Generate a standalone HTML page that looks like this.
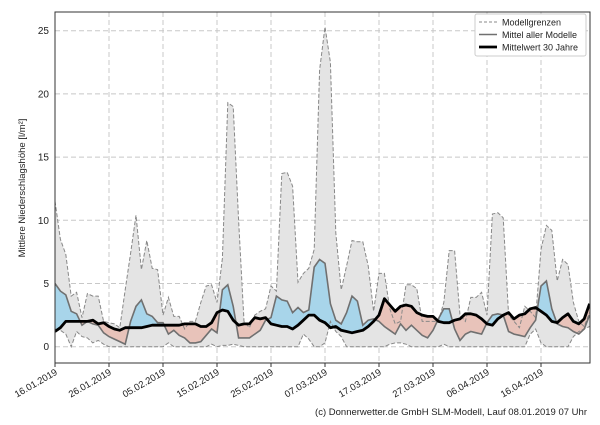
<!DOCTYPE html>
<html><head><meta charset="utf-8"><style>
body{margin:0;background:#fff;width:600px;height:420px;overflow:hidden}
svg{font-family:"Liberation Sans","DejaVu Sans",sans-serif}
</style></head><body>
<svg id="s" width="600" height="420" xmlns="http://www.w3.org/2000/svg"></svg>
<script>
const up=[11.5,8.5,7.3,4,4.3,2.3,4.2,4,4,2,1.9,1.8,1.5,4.5,7.4,10.4,6.1,8.4,6.2,6.1,2.5,3.9,2.4,2.4,1.4,2,2,3.5,4.8,4.9,3.5,7,19.3,19,10,2,1.5,2.5,2.8,3,4.8,4.4,13.7,13.8,12.7,5.1,5.8,6.2,7.7,21.9,25.3,22.5,9,4.5,6.4,8.4,8.3,8.3,6.4,2.8,5.8,5.8,3,1.8,2,4.9,4.9,4.6,2,2,2,2,3.5,7.6,7.6,2.5,2,3.9,3.9,4.3,2.5,10.5,10.6,10.2,2.5,2,1.5,3.2,2.8,2.3,7.7,9.6,9.2,5.2,6.9,6.5,3.5,2,1.6,2.7];
const lo=[1.4,1.3,1,0,1.2,0.8,0.7,0.3,0.5,0.2,0,0,0,0,0,0,0,0,0,0,0,0.3,0,0,0,0,0,0,0,0.2,0,0.1,0.1,0.2,0.1,0,0,0,0,0,0,0,0,0,0,0,1,0.6,0,0,0.3,2,1.2,0.8,0,0,0,0,0,0,0,0,0.2,0.3,0.3,0.2,0,0,0,0,0,0,0.2,0,0,0,0,0,0,0,0,0,0,0,0,0,0,0,1,1.4,0.3,0,0,0,0,0,0.8,1.2,1.4,1.6];
const mn=[5,4.4,4.1,2.8,2.6,1.7,2,1.8,1.7,1.1,0.8,0.6,0.4,0.2,2,3.2,3.7,2.6,2.4,1.9,1.9,1,1.3,0.9,0.7,0.3,0.3,0.4,0.9,1.4,1.1,4.5,4.9,3.2,0.7,0.7,0.7,1,1.3,2.1,2.3,4,3.7,3.6,2.7,3.1,2.7,2.9,6.3,6.9,6.6,3.4,2.1,1.8,2.7,4,3.6,1.7,2.1,2.2,2,1.6,1.3,1,1.8,1.3,1.7,1.3,0.9,0.7,1.3,2.2,3,3,1.4,0.5,1,1.2,1.1,1,1.9,2.5,2.6,2.5,1.2,1,0.9,0.8,1.5,2.1,4.8,5.2,3,1.8,1.6,1.5,1.2,1,1.4,2.5];
const cl=[1.2,1.5,2,2,2,2,2,2.1,1.8,1.9,1.6,1.4,1.3,1.5,1.5,1.5,1.5,1.6,1.7,1.7,1.7,1.7,1.7,1.7,1.8,1.8,1.8,1.6,1.6,1.9,2.7,2.9,2.8,2.1,1.7,1.8,1.8,2.3,2.2,2.3,1.8,1.7,1.6,1.6,1.4,1.7,2.1,2.5,2.5,2.1,1.9,1.5,1.6,1.3,1.2,1.1,1.2,1.3,1.6,2,2.5,3.8,3.3,2.8,3.2,3.3,3.2,2.7,2.5,2.4,2.4,2,1.9,1.9,2.1,2.2,2.6,2.6,2.5,2.2,1.8,1.7,2.2,2.5,2.7,2.2,2.5,2.6,3,3.1,2.8,2.5,2,1.9,2.3,2.6,2,1.8,2.2,3.4];
const X0=55,X1=590,Y0=346.7,K=12.64,DX=5.4;
const X=d=>Math.min(X1,X0+DX*d),Y=v=>Y0-K*v;
const pts=a=>a.map((v,i)=>X(i).toFixed(1)+","+Y(v).toFixed(1));
const rev=a=>pts(a).reverse();
let h='<defs><clipPath id="pa"><rect x="55" y="12" width="535" height="351"/></clipPath>';
h+='<clipPath id="ab"><polygon points="'+["55,0",...pts(cl),"590,0"].join(" ")+'"/></clipPath>';
h+='<clipPath id="be"><polygon points="'+["55,420",...pts(cl),"590,420"].join(" ")+'"/></clipPath></defs>';
// grid
for(let v=0;v<=25;v+=5){h+=`<line x1="55" x2="590" y1="${Y(v)}" y2="${Y(v)}" stroke="#c8c8c8" stroke-dasharray="5,3" stroke-width="1"/>`;
h+=`<text x="49" y="${Y(v)+3.5}" font-size="10" text-anchor="end" fill="#222">${v}</text>`;}
const dates=["16.01.2019","26.01.2019","05.02.2019","15.02.2019","25.02.2019","07.03.2019","17.03.2019","27.03.2019","06.04.2019","16.04.2019"];
dates.forEach((t,i)=>{const x=X0+54*i;
if(i>0)h+=`<line x1="${x}" x2="${x}" y1="12" y2="363" stroke="#c8c8c8" stroke-dasharray="5,3"/>`;
h+=`<line x1="${x}" x2="${x}" y1="363" y2="367" stroke="#333"/>`;
h+=`<text transform="translate(${x+3},374) rotate(-30)" font-size="9.5" text-anchor="end" fill="#222">${t}</text>`;});
h+='<g clip-path="url(#pa)">';
h+='<polygon points="'+[...pts(up),...rev(lo)].join(" ")+'" fill="#e4e4e4"/>';
const band=[...pts(mn),...rev(cl)].join(" ");
h+='<polygon points="'+band+'" fill="#a8d5ea" clip-path="url(#ab)"/>';
h+='<polygon points="'+band+'" fill="#e8c3ba" clip-path="url(#be)"/>';
h+='<polyline points="'+pts(up).join(" ")+'" fill="none" stroke="#888" stroke-dasharray="4,2" stroke-width="1"/>';
h+='<polyline points="'+pts(lo).join(" ")+'" fill="none" stroke="#888" stroke-dasharray="4,2" stroke-width="1"/>';
h+='<polyline points="'+pts(mn).join(" ")+'" fill="none" stroke="#707070" stroke-width="1.6"/>';
h+='<polyline points="'+pts(cl).join(" ")+'" fill="none" stroke="#000" stroke-width="2.8" stroke-linejoin="round"/>';
h+='</g><rect x="55" y="12" width="535" height="351" fill="none" stroke="#333" stroke-width="1"/>';
// legend
h+='<rect x="475" y="14" width="111" height="42" fill="#fff" stroke="#ccc" rx="2"/>';
h+='<line x1="479" x2="497" y1="22" y2="22" stroke="#888" stroke-dasharray="3,2"/><text x="502" y="25.5" font-size="9" fill="#222">Modellgrenzen</text>';
h+='<line x1="479" x2="497" y1="34.5" y2="34.5" stroke="#707070" stroke-width="1.6"/><text x="502" y="38" font-size="9" fill="#222">Mittel aller Modelle</text>';
h+='<line x1="479" x2="497" y1="47" y2="47" stroke="#000" stroke-width="2.8"/><text x="502" y="50.5" font-size="9" fill="#222">Mittelwert 30 Jahre</text>';
h+='<text transform="translate(25,188) rotate(-90)" font-size="9.5" text-anchor="middle" fill="#222">Mittlere Niederschlagshöhe [l/m²]</text>';
h+='<text x="587" y="415" font-size="9.5" text-anchor="end" fill="#222">(c) Donnerwetter.de GmbH SLM-Modell, Lauf 08.01.2019 07 Uhr</text>';
document.getElementById('s').innerHTML=h;
</script>
</body></html>
